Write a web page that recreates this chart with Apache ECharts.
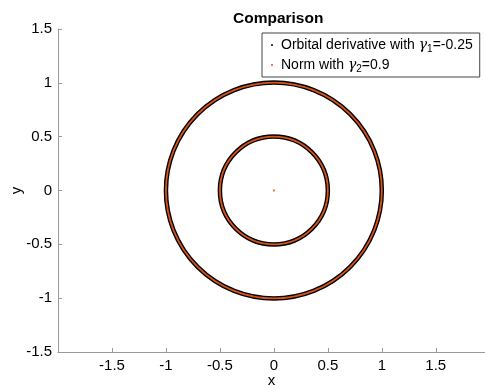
<!DOCTYPE html>
<html>
<head>
<meta charset="utf-8">
<script src="https://cdn.jsdelivr.net/npm/echarts@6/dist/echarts.min.js"></script>
<style>
  html, body { margin: 0; padding: 0; background: #fff; }
  #chart { width: 485px; height: 389px; }
</style>
</head>
<body>
<div id="chart"></div>
<script>
// circles as [centerX, centerY, radius]
var orbitalRings = [[0, 0, 1], [0, 0, 0.5]];
var normRings = [[0, 0, 1], [0, 0, 0.5]];
var centerPoint = [[0, 0]];
var seriesNames = ['Orbital derivative with g1=-0.25', 'Norm with g2=0.9'];
var legendLabels = [
  'Orbital derivative with {g|γ}{sub|1}=-0.25',
  'Norm with {g|γ}{sub|2}=0.9'
];
var tickInterval = 0.5;

var font = 'Liberation Sans, Arial, Helvetica, sans-serif';
var orange = '#D95319';

function ring(color, width) {
  return function (params, api) {
    var c = api.coord([api.value(0), api.value(1)]);
    var r = api.size([api.value(2), 0])[0];
    return {
      type: 'circle',
      shape: { cx: c[0], cy: c[1], r: r },
      style: { fill: 'none', stroke: color, lineWidth: width }
    };
  };
}

var chart = echarts.init(document.getElementById('chart'));
var option = {
  animation: false,
  title: {
    text: 'Comparison',
    left: 228,
    top: 6,
    textStyle: { fontFamily: font, fontSize: 15.5, fontWeight: 'bold', color: '#000' }
  },
  legend: {
    orient: 'vertical',
    left: 262,
    top: 33,
    padding: [5, 7, 3, 9],
    itemGap: 4,
    itemWidth: 2,
    itemHeight: 2,
    borderColor: '#444',
    borderWidth: 1,
    borderRadius: 0,
    data: [
      { name: seriesNames[0], icon: 'circle' },
      { name: seriesNames[1], icon: 'circle' }
    ],
    formatter: function (name) {
      return legendLabels[seriesNames.indexOf(name)];
    },
    textStyle: {
      fontFamily: font,
      fontSize: 14,
      color: '#000',
      padding: [0, 0, 0, 3],
      rich: {
        g: { fontFamily: 'DejaVu Serif', fontStyle: 'italic', fontSize: 14, color: '#000' },
        sub: { fontFamily: font, fontSize: 10, color: '#000', padding: [8, 0, 0, 0] }
      }
    }
  },
  grid: { left: 58, top: 29, right: 0, bottom: 37, containLabel: false, outerBoundsMode: 'none' },
  xAxis: {
    type: 'value',
    min: -2,
    max: 1.956,
    interval: tickInterval,
    name: 'x',
    nameLocation: 'middle',
    nameGap: 21,
    nameMoveOverlap: false,
    nameTextStyle: { fontFamily: font, fontSize: 15, color: '#000' },
    splitLine: { show: false },
    axisLine: { onZero: false, lineStyle: { color: '#999', width: 1 } },
    axisTick: { inside: true, length: 4, lineStyle: { color: '#999' } },
    axisLabel: {
      showMinLabel: false,
      showMaxLabel: false,
      margin: 6,
      fontFamily: font,
      fontSize: 15,
      color: '#000'
    }
  },
  yAxis: {
    type: 'value',
    min: -1.5,
    max: 1.5,
    interval: tickInterval,
    name: 'y',
    nameLocation: 'middle',
    nameGap: 34,
    nameMoveOverlap: false,
    nameTextStyle: { fontFamily: font, fontSize: 15, color: '#000' },
    splitLine: { show: false },
    axisLine: { onZero: false, lineStyle: { color: '#999', width: 1 } },
    axisTick: { inside: true, length: 4, lineStyle: { color: '#999' } },
    axisLabel: { margin: 6, fontFamily: font, fontSize: 15, color: '#000' }
  },
  series: [
    {
      name: seriesNames[0],
      type: 'custom',
      itemStyle: { color: '#000' },
      renderItem: ring('#000', 4.5),
      data: orbitalRings
    },
    {
      name: seriesNames[1],
      type: 'custom',
      itemStyle: { color: orange },
      renderItem: ring(orange, 1.8),
      data: normRings
    },
    {
      name: seriesNames[1],
      type: 'scatter',
      symbol: 'rect',
      symbolSize: 2,
      itemStyle: { color: orange },
      data: centerPoint
    }
  ]
};
chart.setOption(option);
</script>
</body>
</html>
